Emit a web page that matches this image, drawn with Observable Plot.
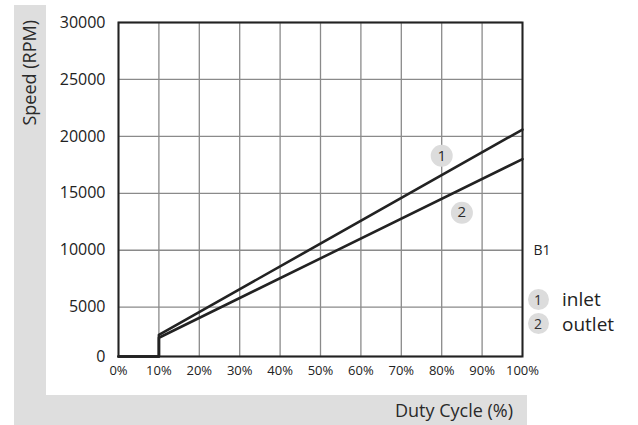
<!DOCTYPE html>
<html>
<head>
<meta charset="utf-8">
<script src="https://cdn.jsdelivr.net/npm/d3@7"></script>
<script src="https://cdn.jsdelivr.net/npm/@observablehq/plot@0.6"></script>
<style>
  html, body { margin: 0; padding: 0; background: #fff; }
  #page { position: relative; width: 638px; height: 425px; overflow: hidden; font-family: "Open Sans", sans-serif; color: #222; font-weight: 400; }
  .band { position: absolute; background: #dedede; }
  #chart { position: absolute; left: 46px; top: 0; }
  #ytitle { position: absolute; left: 18.5px; top: 130px; width: 110px; height: 20px; line-height: 20px;
            font-size: 18px; font-weight: 400; text-align: right; white-space: nowrap; color: #2a2a2a;
            transform: rotate(-90deg); transform-origin: 0 0; }
  #xtitle { position: absolute; left: 313px; top: 398px; width: 200px; line-height: 24px;
            font-size: 18px; font-weight: 400; text-align: right; white-space: nowrap; color: #2a2a2a; }
  .leg-dot { position: absolute; width: 21px; height: 21px; border-radius: 50%; background: #dcdcdc;
             font-size: 14px; line-height: 21px; text-align: center; color: #333; }
  .leg-text { position: absolute; font-size: 19px; line-height: 24px; white-space: nowrap; }
</style>
</head>
<body>
<div id="page">
  <div class="band" style="left:14px; top:5px; width:32px; height:420px;"></div>
  <div class="band" style="left:14px; top:395px; width:513px; height:30px;"></div>
  <div id="chart"></div>
  <div id="ytitle"></div>
  <div id="xtitle"></div>
  <div id="legend"></div>
</div>
<script>
// ---- data ----
const duty = [0, 10, 10, 100];           // Duty Cycle (%)
const inletSpeed = [0, 0, 2200, 20600];  // RPM
const outletSpeed = [0, 0, 1900, 18000]; // RPM
const seriesNames = ["inlet", "outlet"];
const seriesNumbers = ["1", "2"];

const xTicks = [0, 10, 20, 30, 40, 50, 60, 70, 80, 90, 100];
const yTicks = [0, 5000, 10000, 15000, 20000, 25000, 30000];

const markerDuty = [80, 85];
const markerSpeed = [18300, 13300];

const noteText = ["B1"];
const noteDuty = [100];
const noteSpeed = [10000];

const xTitle = "Duty Cycle (%)";
const yTitle = "Speed (RPM)";

// ---- build tables ----
const lineData = [];
duty.forEach((d, i) => lineData.push({series: seriesNames[0], duty: d, speed: inletSpeed[i]}));
duty.forEach((d, i) => lineData.push({series: seriesNames[1], duty: d, speed: outletSpeed[i]}));
const markers = seriesNumbers.map((n, i) => ({n, duty: markerDuty[i], speed: markerSpeed[i]}));
const notes = noteText.map((t, i) => ({t, duty: noteDuty[i], speed: noteSpeed[i]}));

// ---- layout ----
const width = 592, height = 395;
const marginLeft = 72, marginRight = 116, marginTop = 22, marginBottom = 39;
const yBottom = height - marginBottom, yTop = marginTop;
// the first grid interval of the original is drawn shorter than the others
const yFirst = yBottom - (yBottom - yTop) * 0.1476;

const grid = "#8a8a8a";
const ink = "#222";

const plot = Plot.plot({
  width, height, marginLeft, marginRight, marginTop, marginBottom,
  style: {background: "white", fontFamily: "Open Sans, sans-serif", color: ink, overflow: "visible"},
  x: {domain: [0, 100]},
  y: {type: "linear", domain: [0, 5000, 30000], range: [yBottom, yFirst, yTop]},
  marks: [
    Plot.gridX(xTicks, {stroke: grid, strokeOpacity: 1, strokeWidth: 1.3}),
    Plot.gridY(yTicks, {stroke: grid, strokeOpacity: 1, strokeWidth: 1.3}),
    Plot.frame({stroke: ink, strokeWidth: 2}),
    Plot.axisX(xTicks, {tickSize: 0, tickPadding: 9, fontSize: 13, tickFormat: d => d + "%", label: null, fill: ink}),
    Plot.axisY(yTicks, {tickSize: 0, tickPadding: 13, fontSize: 16, tickFormat: d => String(d), label: null, fill: ink}),
    Plot.line(lineData, {x: "duty", y: "speed", z: "series", stroke: ink, strokeWidth: 2.6}),
    Plot.dot(markers, {x: "duty", y: "speed", r: 11, fill: "#dcdcdc", stroke: null}),
    Plot.text(markers, {x: "duty", y: "speed", text: "n", fontSize: 15, fill: "#2a2a2a"}),
    Plot.text(notes, {x: "duty", y: "speed", text: "t", dx: 11, textAnchor: "start", fontSize: 14, fill: ink})
  ]
});
document.getElementById("chart").appendChild(plot);

document.getElementById("ytitle").textContent = yTitle;
document.getElementById("xtitle").textContent = xTitle;

const legend = document.getElementById("legend");
seriesNames.forEach((name, i) => {
  const dot = document.createElement("div");
  dot.className = "leg-dot";
  dot.style.left = "527.5px";
  dot.style.top = (288.5 + i * 24) + "px";
  dot.textContent = seriesNumbers[i];
  legend.appendChild(dot);
  const txt = document.createElement("div");
  txt.className = "leg-text";
  txt.style.left = "562px";
  txt.style.top = (286.5 + i * 25) + "px";
  txt.textContent = name;
  legend.appendChild(txt);
});
</script>
</body>
</html>
